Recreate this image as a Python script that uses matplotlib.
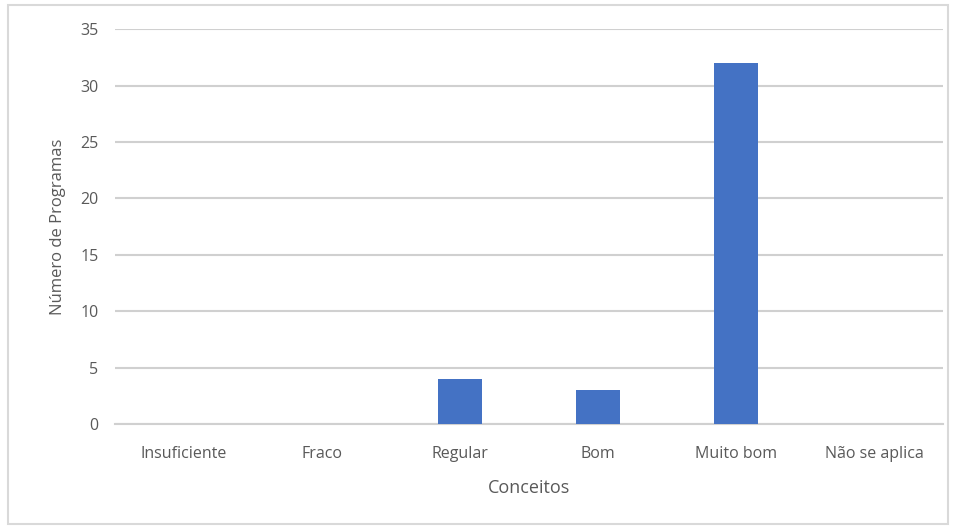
import matplotlib.pyplot as plt
from matplotlib.patches import Rectangle

conceitos = ["Insuficiente", "Fraco", "Regular", "Bom", "Muito bom", "Não se aplica"]
programas = [0, 0, 4, 3, 32, 0]
y_ticks = [0, 5, 10, 15, 20, 25, 30, 35]

plt.rcParams['font.family'] = ['Open Sans', 'DejaVu Sans']
cinza = "#595959"

fig = plt.figure(figsize=(9.56, 5.29), dpi=100)
ax = fig.add_axes([0.1203, 0.1985, 0.8661, 0.7465])

ax.bar(conceitos, programas, width=0.32, color="#4472C4", zorder=3)

ax.set_ylim(0, 35)
ax.set_xlim(-0.5, len(conceitos) - 0.5)
ax.set_yticks(y_ticks)
ax.grid(axis="y", color="#D0D0D0", linewidth=1.5, zorder=0)
for s in ["top", "right", "left"]:
    ax.spines[s].set_visible(False)
ax.spines["bottom"].set_color("#D0D0D0")
ax.spines["bottom"].set_linewidth(1.5)
ax.tick_params(axis="both", length=0, labelsize=11.5, colors=cinza)
ax.tick_params(axis="x", pad=16)
ax.tick_params(axis="y", pad=12)

ax.set_xlabel("Conceitos", fontsize=13, color=cinza, labelpad=12)
ax.set_ylabel("Número de Programas", fontsize=12, color=cinza, labelpad=10)

fig.patches.append(Rectangle((0.008, 0.01), 0.984, 0.98, transform=fig.transFigure,
                             fill=False, edgecolor="#D9D9D9", linewidth=1.5))

fig.savefig("out.png", dpi=100)
